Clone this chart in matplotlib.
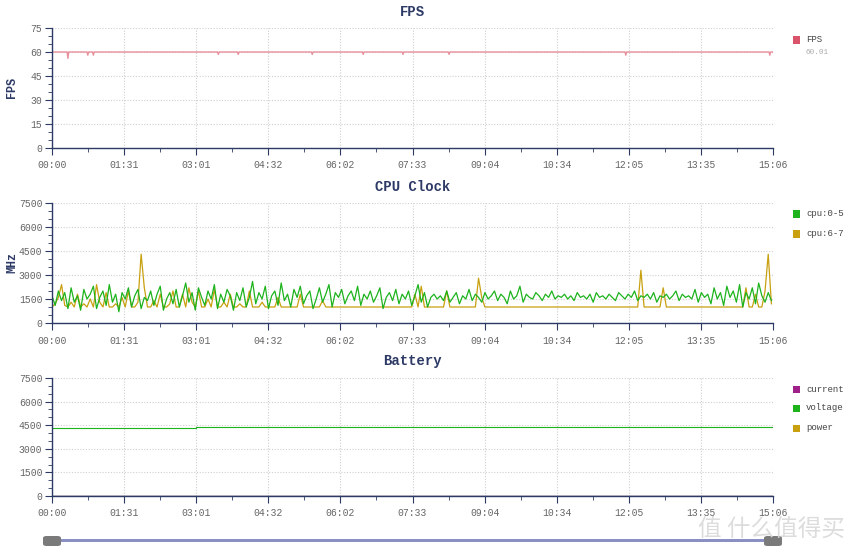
import matplotlib
matplotlib.use("Agg")
import matplotlib.pyplot as plt
from matplotlib.patches import Rectangle, FancyBboxPatch
from matplotlib.ticker import MultipleLocator, FixedLocator

# ---------------- data ----------------
x_tick_pos = [0, 90.6, 181.2, 271.8, 362.4, 453, 543.6, 634.2, 724.8, 815.4, 906]
x_tick_labels = ["00:00", "01:31", "03:01", "04:32", "06:02", "07:33",
                 "09:04", "10:34", "12:05", "13:35", "15:06"]

fps_t = [0, 19, 20, 21, 44, 45, 46, 51, 52, 53, 208, 209, 210, 233, 234, 235,
         326, 327, 328, 390, 391, 392, 440, 441, 442, 498, 499, 500,
         720, 721, 722, 901, 902, 903, 906]
fps_v = [60, 60, 56, 60, 60, 58, 60, 60, 58, 60, 60, 58.5, 60, 60, 58.5, 60,
         60, 58.5, 60, 60, 58.5, 60, 60, 58.5, 60, 60, 58.5, 60,
         60, 58, 60, 60, 58, 60, 60]

cpu_step = 4  # seconds between samples
cpu_0_5 = [
    1700, 1100, 2000, 1400, 1900, 900, 2200, 1300, 1700, 800, 2100, 1500, 1800, 2300, 900, 1600, 2000, 1100, 2400, 1300,
    1800, 700, 1900, 1500, 2200, 1000, 1700, 2100, 900, 1600, 1400, 2000, 1100, 1800, 2300, 800, 1500, 1900, 1200, 2100,
    1000, 1700, 2500, 1300, 1900, 800, 2200, 1600, 1100, 2000, 1500, 2400, 900, 1800, 1300, 2100, 1700, 800, 1900, 1400,
    2200, 1000, 1600, 2600, 1200, 1900, 1500, 2300, 900, 1700, 2000, 1100, 2500, 1400, 1800, 1000, 2100, 1600, 2300, 1200,
    1700, 2000, 900, 1500, 2200, 1300, 1800, 2400, 1000, 1900, 1600, 2100, 1200, 1700, 2000, 1400, 2300, 1100, 1800, 1500,
    2000, 1300, 1700, 2200, 900, 1600, 1900, 1400, 2100, 1200, 1800, 1500, 2000, 1100, 1700, 2400, 1300, 1900, 1000, 1600,
    1800, 1500, 1700, 1400, 2000, 1300, 1600, 1900, 1200, 1700, 1500, 2100, 1400, 1800, 1600, 1300, 1900, 1500, 1700, 2000,
    1400, 1800, 1600, 1200, 2000, 1500, 1700, 2300, 1300, 1800, 1600, 1500, 1900, 1700, 1400, 1800, 1600, 2000, 1500, 1700,
    1600, 1800, 1500, 1700, 1400, 1900, 1600, 1700, 1500, 1800, 1300, 1900, 1600, 1700, 1500, 1800, 1600, 1400, 1900, 1700,
    1500, 1800, 1600, 2000, 1400, 1700, 1600, 1800, 1500, 1900, 1300, 1700, 1600, 1800, 1500, 1700, 2000, 1400, 1800, 1600,
    1700, 1500, 2100, 1300, 1900, 1600, 1800, 1200, 2200, 1500, 1900, 1100, 2300, 1600, 2000, 1300, 2400, 1000, 1900, 1500,
    2200, 1200, 2500, 1700, 1300, 1900, 1400,
]
cpu_6_7 = [
    1000, 1200, 1600, 2400, 1100, 1000, 1300, 1000, 1800, 1000, 1200, 1000, 1500, 1000, 2400, 1300, 1000, 1900, 1000, 1000,
    1200, 1000, 1600, 1000, 2000, 1000, 1000, 1300, 4300, 2200, 1000, 1000, 1400, 1000, 1800, 1000, 1000, 1200, 2000, 1000,
    1000, 1800, 1000, 2200, 1300, 1000, 2000, 1000, 1000, 1500, 1000, 2100, 1000, 1000, 1300, 1000, 1800, 1000, 1000, 1200,
    1000, 1000, 2000, 1000, 1000, 1000, 1300, 1000, 1000, 1000, 1000, 1600, 1000, 1000, 1000, 1000, 1000, 1000, 1800, 1000,
    1000, 1000, 1000, 1000, 1000, 1400, 1000, 1000, 1000, 1000, 1000, 1000, 1000, 1000, 1000, 1000, 1000, 1000, 1000, 1000,
    1000, 1000, 1000, 1000, 1000, 1000, 1000, 1000, 1000, 1000, 1000, 1000, 1000, 1000, 1800, 1000, 2300, 1000, 1000, 1000,
    1000, 1000, 1000, 1000, 2000, 1000, 1000, 1000, 1000, 1000, 1000, 1000, 1000, 1000, 2800, 1600, 1000, 1000, 1000, 1000,
    1000, 1000, 1000, 1000, 1000, 1000, 1000, 1000, 1000, 1000, 1000, 1000, 1000, 1000, 1000, 1000, 1000, 1000, 1000, 1000,
    1000, 1000, 1000, 1000, 1000, 1000, 1000, 1000, 1000, 1000, 1000, 1000, 1000, 1000, 1000, 1000, 1000, 1000, 1000, 1000,
    1000, 1000, 1000, 1000, 1000, 3300, 1000, 1000, 1000, 1000, 1000, 1000, 2200, 1000, 1000, 1000, 1000, 1000, 1000, 1000,
    1000, 1000, 1000, 1000, 1000, 1000, 1000, 1000, 1000, 1000, 1000, 1000, 1000, 1000, 1000, 1000, 1000, 1000, 2200, 1000,
    1000, 1800, 1000, 1000, 2000, 4300, 1200,
]

bat_t = [0, 180, 181, 450, 451, 906]
voltage = [4330, 4330, 4370, 4370, 4410, 4420]
current = [0, 0, 0, 0, 0, 0]
power = [0, 0, 0, 0, 0, 0]

# ---------------- style ----------------
NAVY = "#2d3a66"
TICKC = "#666666"
GRIDC = "#cfcfcf"
MONO = "Liberation Mono"
C_FPS = "#e8909c"
C_FPS_LEG = "#d9546b"
C_G = "#1db31d"
C_O = "#c8a010"
C_CUR = "#a0208a"

W, H = 864, 556
fig = plt.figure(figsize=(W / 100, H / 100), dpi=100)
fig.patch.set_facecolor("white")


def fx(px):
    return px / W


def fy(py):
    return 1 - py / H


left, right = 52, 773


def make_ax(top_px, bot_px, ymax, ymajor, yminor, title, ylabel):
    ax = fig.add_axes([fx(left), fy(bot_px), fx(right - left), (bot_px - top_px) / H])
    ax.set_xlim(0, 906)
    ax.set_ylim(0, ymax)
    for s in ["top", "right"]:
        ax.spines[s].set_visible(False)
    for s in ["left", "bottom"]:
        ax.spines[s].set_color(NAVY)
        ax.spines[s].set_linewidth(1.0)
    ax.xaxis.set_major_locator(FixedLocator(x_tick_pos))
    ax.set_xticklabels(x_tick_labels)
    mids = [(x_tick_pos[i] + x_tick_pos[i + 1]) / 2 for i in range(len(x_tick_pos) - 1)]
    ax.xaxis.set_minor_locator(FixedLocator(mids))
    ax.yaxis.set_major_locator(MultipleLocator(ymajor))
    ax.yaxis.set_minor_locator(MultipleLocator(yminor))
    ax.tick_params(axis="both", which="major", colors=NAVY, labelcolor=TICKC,
                   labelsize=7, length=5, width=0.8, direction="out")
    ax.tick_params(axis="both", which="minor", colors=NAVY, length=3, width=0.6, direction="out")
    for lab in ax.get_xticklabels() + ax.get_yticklabels():
        lab.set_fontfamily(MONO)
    ax.tick_params(axis="x", pad=4)
    ax.tick_params(axis="y", pad=2)
    ax.grid(True, which="major", color=GRIDC, linestyle=(0, (1, 1.5)), linewidth=0.8)
    ax.set_axisbelow(True)
    ax.set_title(title, fontsize=10, fontweight="bold", color=NAVY, family=MONO, pad=9)
    if ylabel:
        fig.text(fx(12), fy((top_px + bot_px) / 2), ylabel, rotation=90, fontsize=8.5,
                 fontweight="bold", color=NAVY, family=MONO, ha="center", va="center")
    return ax


# FPS
ax1 = make_ax(28, 148, 75, 15, 5, "FPS", "FPS")
ax1.plot(fps_t, fps_v, color=C_FPS, lw=1.0)

# CPU
ax2 = make_ax(203, 323, 7500, 1500, 500, "CPU Clock", "MHz")
cpu_t = [i * cpu_step for i in range(len(cpu_0_5))]
ax2.plot(cpu_t, cpu_6_7, color=C_O, lw=0.9)
ax2.plot(cpu_t, cpu_0_5, color=C_G, lw=0.9)

# Battery
ax3 = make_ax(378, 496, 7500, 1500, 500, "Battery", None)
ax3.plot(bat_t, current, color=C_CUR, lw=0.8)
ax3.plot(bat_t, power, color=C_O, lw=0.8)
ax3.plot(bat_t, voltage, color=C_G, lw=0.8, drawstyle="steps-post")
ax3.plot(bat_t, [0] * len(bat_t), color=NAVY, lw=1.0)

# legends
def legend_item(px, py, color, text):
    s = 7
    fig.add_artist(Rectangle((fx(px - s / 2), fy(py + s / 2)), s / W, s / H,
                             transform=fig.transFigure, color=color, lw=0))
    fig.text(fx(px + 10), fy(py), text, fontsize=6.5, family=MONO, color="#444444",
             va="center", ha="left")


legend_item(796, 40, C_FPS_LEG, "FPS")
fig.text(fx(806), fy(52), "60.01", fontsize=5.5, family=MONO, color="#aaaaaa", va="center")
legend_item(796, 214, C_G, "cpu:0-5")
legend_item(796, 234, C_O, "cpu:6-7")
legend_item(796, 389, C_CUR, "current")
legend_item(796, 408, C_G, "voltage")
legend_item(796, 428, C_O, "power")

# slider
fig.add_artist(Rectangle((fx(52), fy(542)), fx(773 - 52), 3 / H, transform=fig.transFigure,
                         color="#8a8fc4", lw=0))
for hx in [52, 773]:
    fig.add_artist(FancyBboxPatch((fx(hx - 9), fy(546)), 18 / W, 10 / H,
                                  boxstyle="round,pad=0,rounding_size=0.004",
                                  transform=fig.transFigure, color="#7a7a7a", lw=0))

# watermark
fig.text(fx(698), fy(530), "值 什么值得买", fontsize=17, color="#d9d9d9",
         family=["Noto Sans CJK SC", "DejaVu Sans"], va="center", ha="left", alpha=0.9)

fig.savefig("out.png", dpi=100, facecolor="white")
